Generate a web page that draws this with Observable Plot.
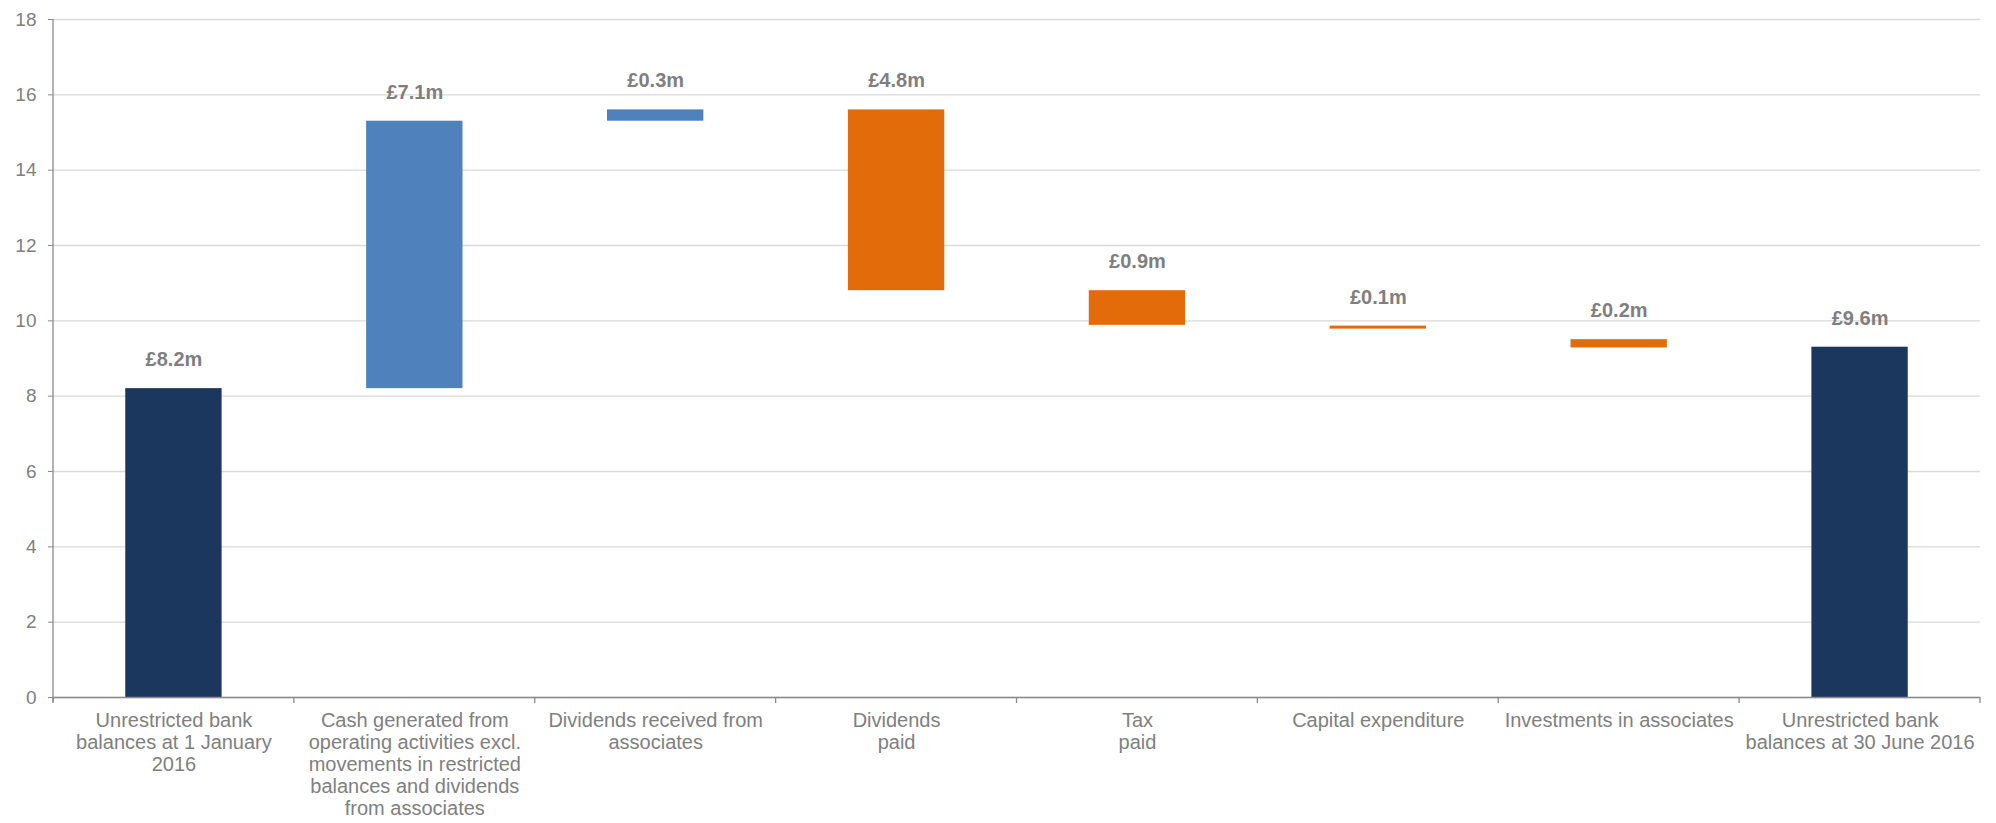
<!DOCTYPE html>
<html>
<head>
<meta charset="utf-8">
<script src="https://cdn.jsdelivr.net/npm/d3@7"></script>
<script src="https://cdn.jsdelivr.net/npm/@observablehq/plot@0.6"></script>
<style>
  html, body { margin: 0; padding: 0; background: #ffffff; }
  #chart { width: 1996px; height: 823px; }
</style>
</head>
<body>
<div id="chart"></div>
<script>
// Categories (x axis)
const categories = [
  "Opening balance", "Cash generated", "Dividends received", "Dividends paid",
  "Tax paid", "Capital expenditure", "Investments in associates", "Closing balance"
];
// Tick label text (multi-line as in the reference)
const tickLabels = [
  "Unrestricted bank\nbalances at 1 January\n2016",
  "Cash generated from\noperating activities excl.\nmovements in restricted\nbalances and dividends\nfrom associates",
  "Dividends received from\nassociates",
  "Dividends\npaid",
  "Tax\npaid",
  "Capital expenditure",
  "Investments in associates",
  "Unrestricted bank\nbalances at 30 June 2016"
];
// Bar start and end values (£m), as drawn
const starts = [0, 8.2, 15.3, 15.6, 10.8, 9.86, 9.5, 0];
const ends   = [8.2, 15.3, 15.6, 10.8, 9.88, 9.78, 9.28, 9.3];
// Kind of step
const kinds = ["total", "increase", "increase", "decrease", "decrease", "decrease", "decrease", "total"];
// Value labels
const valueLabels = ["£8.2m", "£7.1m", "£0.3m", "£4.8m", "£0.9m", "£0.1m", "£0.2m", "£9.6m"];
// Y ticks
const yTicks = [0, 2, 4, 6, 8, 10, 12, 14, 16, 18];
// Colours by kind
const kindDomain = ["total", "increase", "decrease"];
const kindColors = ["#1b375e", "#4f81bd", "#e36c0a"];

const data = categories.map((c, i) => ({
  cat: c,
  y1: starts[i],
  y2: ends[i],
  top: Math.max(starts[i], ends[i]),
  kind: kinds[i],
  label: valueLabels[i]
}));

const axisGray = "#8a8a8a";
const textGray = "#808080";

const plot = Plot.plot({
  width: 1996,
  height: 823,
  marginLeft: 53,
  marginRight: 16,
  marginTop: 19,
  marginBottom: 126,
  style: { fontFamily: "'Liberation Sans', Arial, sans-serif", background: "#ffffff", overflow: "visible" },
  x: { domain: categories, paddingInner: 0.6, paddingOuter: 0.3, round: false, label: null },
  y: { domain: [0, 18], label: null },
  color: { domain: kindDomain, range: kindColors },
  marks: [
    Plot.gridY(yTicks, { stroke: "#d9d9d9", strokeOpacity: 1, strokeWidth: 1.3 }),
    Plot.axisY(yTicks, {
      tickSize: 5, tickPadding: 12, fontSize: 19,
      stroke: axisGray, fill: textGray, label: null
    }),
    Plot.axisX({
      tickSize: 0, tickPadding: 14, fontSize: 20, fill: textGray,
      lineHeight: 1.1, lineAnchor: "top", label: null,
      tickFormat: d => tickLabels[categories.indexOf(d)]
    }),
    Plot.barY(data, { x: "cat", y1: "y1", y2: "y2", fill: "kind" }),
    Plot.ruleY([0], { stroke: axisGray, strokeWidth: 1.3 }),
    Plot.text(data, {
      x: "cat", y: "top", text: "label", dy: -29,
      fontSize: 20, fontWeight: "bold", fill: "#7f7f7f"
    })
  ]
});

document.getElementById("chart").appendChild(plot);

// Left axis line and category boundary ticks, positioned via the plot's own scales
const xs = plot.scale("x");
const ys = plot.scale("y");
const svg = d3.select(plot.tagName.toLowerCase() === "svg" ? plot : plot.querySelector("svg"));
const step = xs.apply(categories[1]) - xs.apply(categories[0]);
const bw = xs.bandwidth;
const gap = (step - bw) / 2;
const bounds = categories.map(c => xs.apply(c) - gap);
bounds.push(xs.apply(categories[categories.length - 1]) + bw + gap);
const y0 = ys.apply(0);
const g = svg.append("g").attr("stroke", axisGray).attr("stroke-width", 1.3);
g.append("line")
  .attr("x1", bounds[0]).attr("x2", bounds[0])
  .attr("y1", ys.apply(18)).attr("y2", y0 + 5);
g.selectAll("line.bt").data(bounds).join("line")
  .attr("class", "bt")
  .attr("x1", d => d).attr("x2", d => d)
  .attr("y1", y0).attr("y2", y0 + 6);
</script>
</body>
</html>
